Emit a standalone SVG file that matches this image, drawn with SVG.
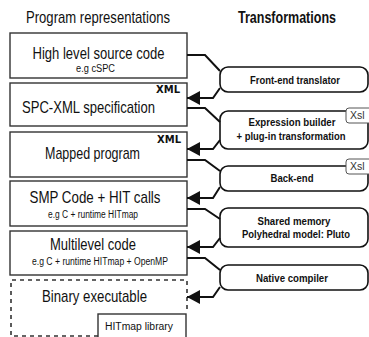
<svg xmlns="http://www.w3.org/2000/svg" width="369" height="337" viewBox="0 0 369 337">
  <style>
    .repr { fill: #fff; stroke: #333; stroke-width: 1.4; }
    .dash { fill: none; stroke: #333; stroke-width: 1.6; stroke-dasharray: 4 4; }
    .xform { fill: #fff; stroke: #111; stroke-width: 1.6; }
    .tab { fill: #fff; stroke: #555; stroke-width: 1; }
    .conn { fill: none; stroke: #111; stroke-width: 2; }
    text { font-family: "Liberation Sans", Arial, sans-serif; fill: #111; }
    .head { font-size: 17px; }
    .big { font-size: 17px; text-anchor: middle; }
    .small { font-size: 10px; text-anchor: middle; }
    .xml { font-size: 10px; font-weight: bold; font-family: "DejaVu Sans", sans-serif; }
    .op { font-size: 10.5px; font-weight: bold; text-anchor: middle; }
    .xsl { font-size: 10.5px; fill: #333; }
  </style>
  <defs>
    <marker id="arrow" markerUnits="userSpaceOnUse" markerWidth="14" markerHeight="14" refX="13" refY="7" orient="auto">
      <path d="M0,0 L13,7 L0,14 Z" fill="#111"/>
    </marker>
  </defs>

  <!-- column headings -->
  <text class="head" x="98" y="23" text-anchor="middle" textLength="144" lengthAdjust="spacingAndGlyphs">Program representations</text>
  <text class="head" x="287" y="23" text-anchor="middle" font-weight="bold" textLength="98" lengthAdjust="spacingAndGlyphs">Transformations</text>

  <!-- program representations -->
  <g id="high-level">
    <rect class="repr" x="10" y="33" width="177" height="45"/>
    <text class="big" x="98.5" y="59" textLength="132" lengthAdjust="spacingAndGlyphs">High level source code</text>
    <text class="small" x="95.5" y="72" textLength="39" lengthAdjust="spacingAndGlyphs">e.g cSPC</text>
  </g>
  <g id="spc-xml">
    <rect class="repr" x="10" y="83" width="177" height="43"/>
    <text class="xml" x="156" y="93" textLength="24" lengthAdjust="spacingAndGlyphs">XML</text>
    <text class="big" x="88.5" y="113" textLength="133" lengthAdjust="spacingAndGlyphs">SPC-XML specification</text>
  </g>
  <g id="mapped">
    <rect class="repr" x="10" y="132" width="177" height="45"/>
    <text class="xml" x="157" y="143" textLength="24" lengthAdjust="spacingAndGlyphs">XML</text>
    <text class="big" x="92.5" y="159" textLength="95" lengthAdjust="spacingAndGlyphs">Mapped program</text>
  </g>
  <g id="smp-code">
    <rect class="repr" x="10" y="181" width="177" height="45"/>
    <text class="big" x="95" y="203" textLength="131" lengthAdjust="spacingAndGlyphs">SMP Code + HIT calls</text>
    <text class="small" x="93" y="218" textLength="90" lengthAdjust="spacingAndGlyphs">e.g C + runtime HITmap</text>
  </g>
  <g id="multilevel">
    <rect class="repr" x="10" y="231" width="177" height="44"/>
    <text class="big" x="93" y="250" textLength="86" lengthAdjust="spacingAndGlyphs">Multilevel code</text>
    <text class="small" x="100" y="265" textLength="136" lengthAdjust="spacingAndGlyphs">e.g C + runtime HITmap + OpenMP</text>
  </g>
  <g id="binary">
    <path class="dash" d="M98,336 H11 V280 H187 V312"/>
    <text class="big" x="94.5" y="302" textLength="105" lengthAdjust="spacingAndGlyphs">Binary executable</text>
  </g>
  <g id="hitmap-lib">
    <rect class="repr" x="98" y="314" width="88" height="30"/>
    <text class="small" x="139" y="330" font-size="11" textLength="68" lengthAdjust="spacingAndGlyphs">HITmap library</text>
  </g>

  <!-- transformations -->
  <g id="front-end">
    <rect class="xform" x="220" y="67" width="148" height="25" rx="8"/>
    <text class="op" x="295" y="84" textLength="90" lengthAdjust="spacingAndGlyphs">Front-end translator</text>
  </g>
  <g id="expr-builder">
    <rect class="xform" x="220" y="111" width="148" height="38" rx="8"/>
    <rect class="tab" x="346" y="108" width="30" height="15" rx="3"/>
    <text class="xsl" x="350" y="119">Xsl</text>
    <text class="op" x="292" y="126" textLength="87" lengthAdjust="spacingAndGlyphs">Expression builder</text>
    <text class="op" x="291" y="140" textLength="109" lengthAdjust="spacingAndGlyphs">+ plug-in transformation</text>
  </g>
  <g id="back-end">
    <rect class="xform" x="220" y="166" width="148" height="25" rx="8"/>
    <rect class="tab" x="346" y="159" width="30" height="15" rx="3"/>
    <text class="xsl" x="350" y="170">Xsl</text>
    <text class="op" x="292" y="182" textLength="43" lengthAdjust="spacingAndGlyphs">Back-end</text>
  </g>
  <g id="shared-memory">
    <rect class="xform" x="220" y="208" width="148" height="39" rx="8"/>
    <text class="op" x="294" y="225" textLength="73" lengthAdjust="spacingAndGlyphs">Shared memory</text>
    <text class="op" x="296" y="238" textLength="108" lengthAdjust="spacingAndGlyphs">Polyhedral model: Pluto</text>
  </g>
  <g id="native-compiler">
    <rect class="xform" x="220" y="265" width="148" height="25" rx="8"/>
    <text class="op" x="292" y="282" textLength="72" lengthAdjust="spacingAndGlyphs">Native compiler</text>
  </g>

  <!-- connectors -->
  <g id="connectors">
    <path class="conn" d="M187,55 H205 L220,71"/>
    <path class="conn" d="M220,88 L213,98 H187" marker-end="url(#arrow)"/>
    <path class="conn" d="M187,108 H205 L220,122"/>
    <path class="conn" d="M220,140 L213,149 H187" marker-end="url(#arrow)"/>
    <path class="conn" d="M187,160 H205 L220,171"/>
    <path class="conn" d="M220,187 L213,198 H187" marker-end="url(#arrow)"/>
    <path class="conn" d="M187,209 H205 L220,219"/>
    <path class="conn" d="M220,238 L213,247 H187" marker-end="url(#arrow)"/>
    <path class="conn" d="M187,258 H205 L220,270"/>
    <path class="conn" d="M220,287 L213,297 H187" marker-end="url(#arrow)"/>
  </g>
</svg>
